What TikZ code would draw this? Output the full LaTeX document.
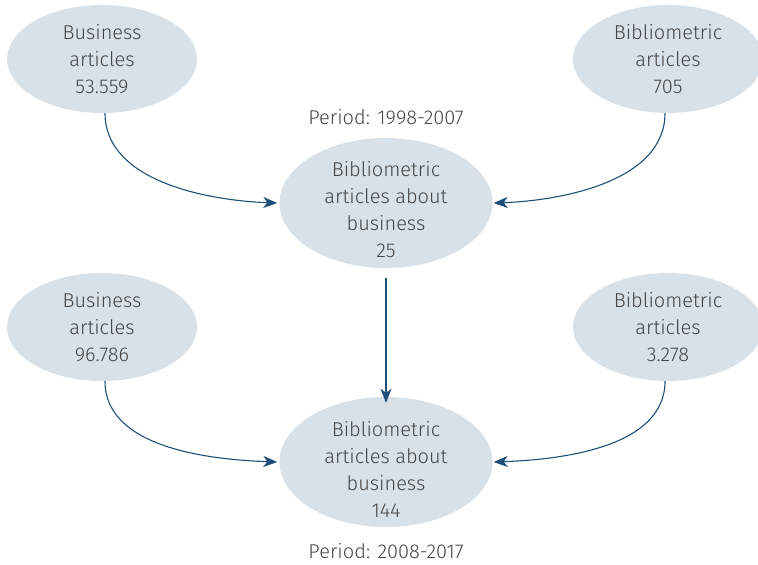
\documentclass[tikz,border=0pt]{standalone}
\usepackage{fontspec}
\setmainfont{Fira Sans Light}[Numbers={Lining,Proportional}]
\usetikzlibrary{shapes.geometric,arrows.meta}
\definecolor{ellfill}{HTML}{D9E1E8}
\definecolor{txt}{HTML}{454545}
\definecolor{arr}{HTML}{1F4E79}
\begin{document}
\begin{tikzpicture}[x=1pt,y=-1pt,
  txtst/.style={inner sep=0pt,align=center,text=txt,
    font=\fontsize{20}{27}\selectfont},
  ell/.style={ellipse,fill=ellfill,inner sep=0pt},
  small/.style={ell,txtst,minimum width=190pt,minimum height=108pt},
  big/.style={ell,minimum width=213pt,minimum height=130pt},
  conn/.style={draw=arr,line width=1.1pt,-{Stealth[length=14pt,width=11pt,inset=4pt]}}]
\useasboundingbox (0,0) rectangle (758,565);
\node[small] (tl) at (102,59) {Business\\articles\\53.559};
\node[small] (tr) at (668,59) {Bibliometric\\articles\\705};
\node[big] (m1) at (386,203) {};
\node[txtst] (m1t) at (386,210) {Bibliometric\\articles about\\business\\25};
\node[txtst] (p1) at (386,117) {Period: 1998-2007};
\node[small] (bl) at (102,327) {Business\\articles\\96.786};
\node[small] (br) at (668,327) {Bibliometric\\articles\\3.278};
\node[big] (m2) at (386,462) {};
\node[txtst] (m2t) at (386,469) {Bibliometric\\articles about\\business\\144};
\node[txtst] (p2) at (386,551) {Period: 2008-2017};
\coordinate (v1) at (386,278);
\draw[conn] ([xshift=3pt]tl.south) to[out=-90,in=178,looseness=0.9] ([xshift=-2pt]m1.west);
\draw[conn] ([xshift=-3pt]tr.south) to[out=-90,in=2,looseness=0.9] ([xshift=1pt]m1.east);
\draw[conn] (v1) -- ([yshift=-6pt]m2.north);
\draw[conn] ([xshift=3pt]bl.south) to[out=-90,in=178,looseness=0.9] ([xshift=-2pt]m2.west);
\draw[conn] ([xshift=-3pt]br.south) to[out=-90,in=2,looseness=0.9] ([xshift=1pt]m2.east);
\end{tikzpicture}
\end{document}
